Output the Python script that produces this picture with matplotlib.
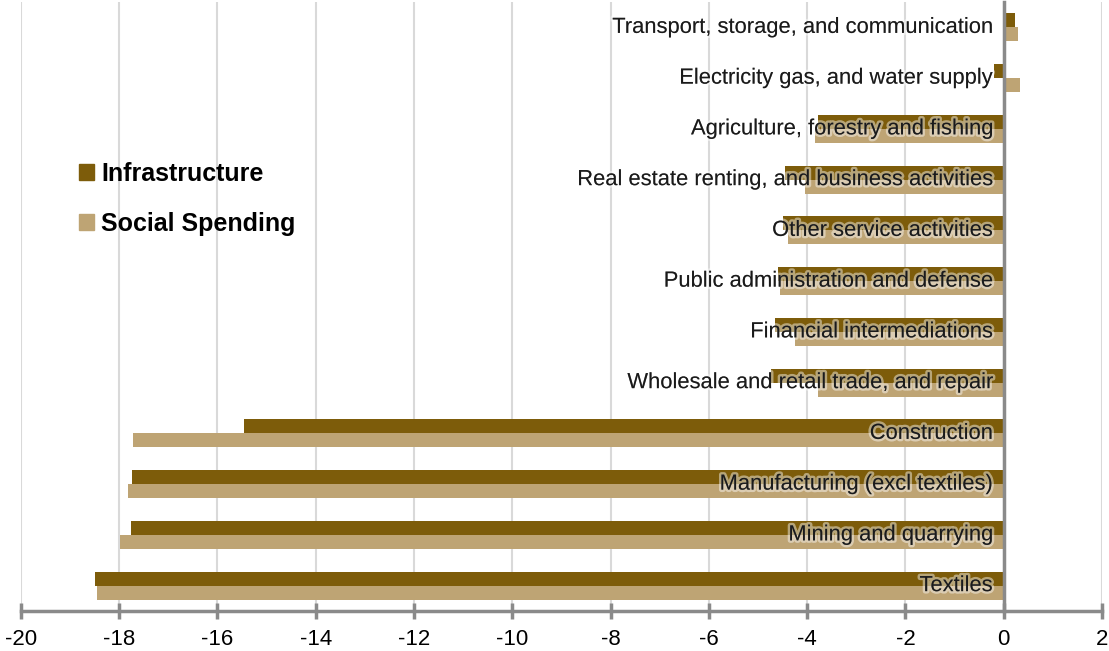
import matplotlib as mpl
mpl.use('Agg')
import matplotlib.pyplot as plt
import matplotlib.patheffects as pe
from matplotlib.patches import Patch
import numpy as np

# sectors, bottom to top
sectors = ["Textiles", "Mining and quarrying", "Manufacturing (excl textiles)",
           "Construction", "Wholesale and retail trade, and repair",
           "Financial intermediations", "Public administration and defense",
           "Other service activities", "Real estate renting, and business activities",
           "Agriculture, forestry and fishing", "Electricity gas, and water supply",
           "Transport, storage, and communication"]
infrastructure = [-18.49, -17.76, -17.74, -15.46, -4.73, -4.65, -4.59, -4.50, -4.45, -3.77, -0.19, 0.23]
social_spending = [-18.44, -17.99, -17.82, -17.71, -3.77, -4.25, -4.56, -4.39, -4.04, -3.84, 0.34, 0.30]
xticks = list(range(-20, 3, 2))

dark = '#7d5c0a'
light = '#bea474'
axis_grey = '#8a8a8a'

plt.rcParams['font.family'] = ['Liberation Sans', 'DejaVu Sans']

fig = plt.figure(figsize=(11.09, 6.51), dpi=100)
ax = fig.add_axes([0.0187, 0.0614, 0.975, 0.9355])

y = np.arange(len(sectors))
h = 0.275
ax.barh(y + h / 2, infrastructure, height=h, color=dark, zorder=2)
ax.barh(y - h / 2, social_spending, height=h, color=light, zorder=2)

ax.set_xlim(-20, 2)
ax.set_ylim(-0.5, len(sectors) - 0.5)
ax.set_xticks(xticks)
ax.set_xticklabels([str(t) for t in xticks], fontsize=16)
ax.set_yticks([])
ax.grid(axis='x', color='#d9d9d9', linewidth=1.5, zorder=0)
ax.set_axisbelow(True)

for s in ['top', 'right']:
    ax.spines[s].set_visible(False)
ax.spines['left'].set_position(('data', 0))
ax.spines['left'].set_color(axis_grey)
ax.spines['left'].set_linewidth(2.5)
ax.spines['left'].set_zorder(3)
ax.spines['bottom'].set_color(axis_grey)
ax.spines['bottom'].set_linewidth(2.5)
ax.tick_params(axis='x', direction='inout', length=12, width=2.5, color=axis_grey, pad=7)

halo = [pe.withStroke(linewidth=3.5, foreground=(1, 1, 1, 0.45))]
for yi, name in zip(y, sectors):
    ax.annotate(name, xy=(0, yi), xytext=(-8, 0), textcoords='offset points',
                ha='right', va='center', fontsize=15.8, color='#1a1a1a',
                path_effects=halo, zorder=4)

handles = [Patch(color=dark), Patch(color=light)]
ax.legend(handles, ['Infrastructure', 'Social Spending'], loc='upper left',
          bbox_to_anchor=(0.033, 0.775), frameon=False, handlelength=0.6,
          handleheight=0.6, handletextpad=0.3, labelspacing=1.05,
          prop={'size': 18, 'weight': 'bold'})

fig.savefig('out.png', dpi=100)
